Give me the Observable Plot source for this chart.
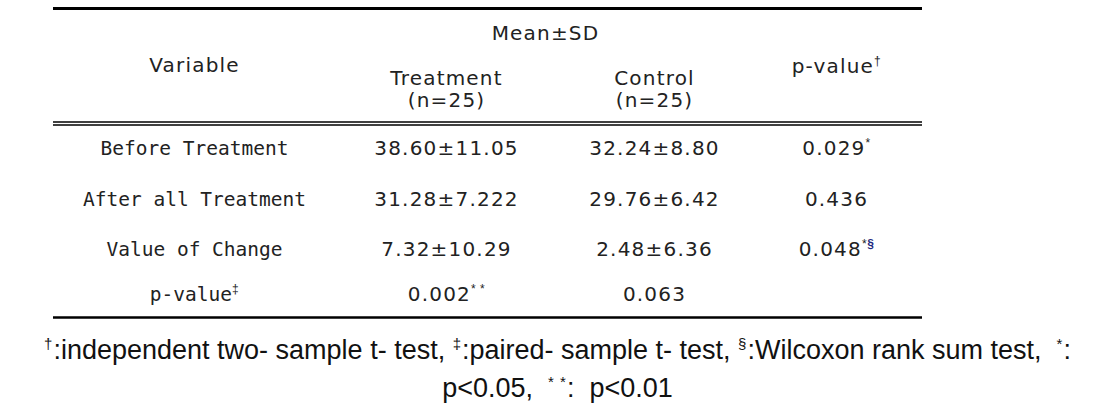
<!DOCTYPE html>
<html><head><meta charset="utf-8">
<script src="https://cdn.jsdelivr.net/npm/d3@7"></script>
<script src="https://cdn.jsdelivr.net/npm/@observablehq/plot@0.6"></script>
<style>
body{margin:0;background:#fff;}
#chart svg text{letter-spacing:1.2px;}
#chart g[font-family*="Mono"] text{letter-spacing:0;}
#chart g[font-family*="Liberation"] text{letter-spacing:0;}
</style></head><body><div id="chart"></div>
<script>
// ---- data ----
const variables = ["Before Treatment", "After all Treatment", "Value of Change", "p-value^‡"];
const treatment = ["38.60±11.05", "31.28±7.222", "7.32±10.29", "0.002^*^ ^*"];
const control   = ["32.24±8.80", "29.76±6.42", "2.48±6.36", "0.063"];
const pValues   = ["0.029^*", "0.436", "0.048^*^§", ""];
const headerVariable = "Variable";
const headerMean = "Mean±SD";
const groups = ["Treatment", "Control"];
const groupN = ["(n=25)", "(n=25)"];
const headerP = "p-value^†";
const footnotes = [
  "^†:independent two- sample t- test, ^‡:paired- sample t- test, ^§:Wilcoxon rank sum test,  ^*:",
  "p<0.05,  ^*^ ^*:  p<0.01"
];

// ---- layout ----
const W = 1114, H = 420;
const L = {left: 53, right: 922, topRule: 8, dbl1: 121.5, dbl2: 124.5, bottomRule: 317,
  colVar: 194, colT: 446, colC: 654, colP: 836, meanX: 545, footX: 557,
  meanY: 33, varY: 65, groupY: 78, nY: 100, pY: 66,
  rowY: [148.5, 199.5, 249, 294.5], footY: [350, 388]};

const rows = variables.map((v, i) => ({i, variable: v, treatment: treatment[i], control: control[i], p: pValues[i]}));
const groupRows = groups.map((g, i) => ({g, n: groupN[i], x: i === 0 ? L.colT : L.colC}));
const footRows = footnotes.map((f, i) => ({i, f}));

const plot = Plot.plot({
  width: W, height: H, margin: 0,
  x: {domain: [0, W], range: [0, W], axis: null},
  y: {domain: [0, H], range: [0, H], axis: null},
  style: {fontFamily: "DejaVu Sans", fontSize: "20px", color: "#222", background: "#fff"},
  marks: [
    Plot.ruleY([L.topRule], {x1: L.left, x2: L.right, stroke: "#000", strokeWidth: 3}),
    Plot.ruleY([L.dbl1, L.dbl2], {x1: L.left, x2: L.right, stroke: "#000", strokeWidth: 1.4}),
    Plot.ruleY([L.bottomRule], {x1: L.left, x2: L.right, stroke: "#000", strokeWidth: 2.5}),
    Plot.text([headerMean], {x: L.meanX, y: L.meanY, text: d => d, fill: "#222"}),
    Plot.text([headerVariable], {x: L.colVar, y: L.varY, text: d => d, fill: "#222"}),
    Plot.text(groupRows, {x: "x", y: L.groupY, text: "g", fill: "#222"}),
    Plot.text(groupRows, {x: "x", y: L.nY, text: "n", fill: "#222"}),
    Plot.text([headerP], {x: L.colP, y: L.pY, text: d => d, fill: "#222"}),
    Plot.text(rows, {x: L.colVar, y: d => L.rowY[d.i], text: "variable", fill: "#222", fontFamily: "DejaVu Sans Mono", fontSize: 19.5}),
    Plot.text(rows, {x: L.colT, y: d => L.rowY[d.i], text: "treatment", fill: "#222"}),
    Plot.text(rows, {x: L.colC, y: d => L.rowY[d.i], text: "control", fill: "#222"}),
    Plot.text(rows, {x: L.colP, y: d => L.rowY[d.i], text: "p", fill: "#222"}),
    Plot.text(footRows, {x: L.footX, y: d => L.footY[d.i], text: "f", fill: "#111", fontFamily: "Liberation Sans", fontSize: 27})
  ]
});

// superscript post-processing: "^c" marks c as superscript
const NS = "http://www.w3.org/2000/svg";
function tokens(s) {
  const out = [];
  for (let k = 0; k < s.length; k++) {
    if (s[k] === "^" && k + 1 < s.length) { out.push({t: s[k + 1], sup: true}); k++; }
    else out.push({t: s[k], sup: false});
  }
  const m = [];
  for (const o of out) {
    const last = m[m.length - 1];
    if (last && last.sup === o.sup && !(o.sup && (o.t === "§" || last.t.includes("§")))) last.t += o.t;
    else m.push({...o});
  }
  return m;
}
plot.querySelectorAll("text").forEach(t => {
  const s = t.textContent;
  if (!s.includes("^")) return;
  const foot = (t.parentNode.getAttribute("font-family") || "").includes("Liberation");
  const supSize = foot ? 15 : 12, shift = foot ? 10 : 8;
  t.textContent = "";
  let raised = false;
  for (const tok of tokens(s)) {
    const ts = document.createElementNS(NS, "tspan");
    ts.textContent = tok.t;
    if (tok.sup) {
      ts.setAttribute("font-size", supSize + "px");
      ts.setAttribute("font-family", "Liberation Sans, Arial, sans-serif");
      ts.style.letterSpacing = foot ? "1px" : "0.5px";
      if (!raised) { ts.setAttribute("dy", -shift); raised = true; }
      if (tok.t === "§" && !foot) { ts.setAttribute("fill", "#1f2a80"); ts.setAttribute("font-weight", "bold"); }
    } else if (raised) { ts.setAttribute("dy", shift); raised = false; }
    t.appendChild(ts);
  }
});
document.getElementById("chart").appendChild(plot);
</script></body></html>
